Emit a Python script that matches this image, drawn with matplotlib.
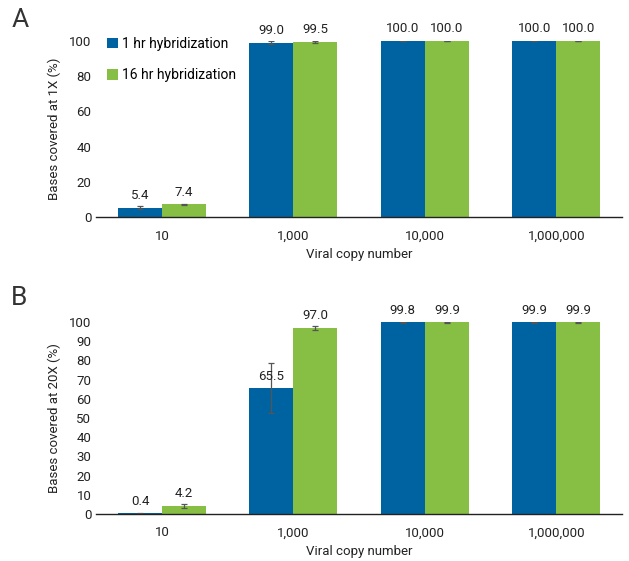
import matplotlib.pyplot as plt
import numpy as np

plt.rcParams['font.family'] = ['Roboto', 'DejaVu Sans']

categories = ["10", "1,000", "10,000", "1,000,000"]
series = ["1 hr hybridization", "16 hr hybridization"]

# panel A: bases covered at 1X
cov1x_1hr = [5.4, 99.0, 100.0, 100.0]
cov1x_16hr = [7.4, 99.5, 100.0, 100.0]
err1x_1hr = [1.0, 1.0, 0.2, 0.2]
err1x_16hr = [0.3, 0.5, 0.2, 0.2]

# panel B: bases covered at 20X
cov20x_1hr = [0.4, 65.5, 99.8, 99.9]
cov20x_16hr = [4.2, 97.0, 99.9, 99.9]
err20x_1hr = [0.3, 13.0, 0.2, 0.2]
err20x_16hr = [1.0, 1.0, 0.2, 0.2]

blue = "#0063a1"
green = "#86bf44"

fig = plt.figure(figsize=(6.29, 5.61), dpi=100)
axA = fig.add_axes([0.153, 0.613, 0.836, 0.314])
axB = fig.add_axes([0.153, 0.084, 0.836, 0.342])

x = np.arange(len(categories))
w = 0.335


def draw(ax, v1, v2, e1, e2, ylabel, yticks):
    for vals, errs, col, off, lab in [(v1, e1, blue, -w / 2, series[0]),
                                      (v2, e2, green, w / 2, series[1])]:
        ax.bar(x + off, vals, w, color=col, label=lab,
               yerr=errs, capsize=2,
               error_kw=dict(ecolor="#555555", elinewidth=0.9, capthick=0.9))
        for xi, v in zip(x + off, vals):
            ax.annotate("%.1f" % v, (xi, v), xytext=(0, 4), textcoords="offset points",
                        ha="center", va="bottom", fontsize=9.5, color="#222222")
    ax.set_xlim(-0.5, 3.5)
    ax.set_ylim(0, 100)
    ax.set_yticks(yticks)
    ax.set_xticks(x)
    ax.set_xticklabels(categories)
    for s in ["top", "right", "left"]:
        ax.spines[s].set_visible(False)
    ax.spines["bottom"].set_color("#222222")
    ax.spines["bottom"].set_linewidth(1.0)
    ax.tick_params(axis="both", length=0, labelsize=9.5, colors="#222222")
    ax.tick_params(axis="x", pad=9)
    ax.set_xlabel("Viral copy number", fontsize=9.5, color="#222222", labelpad=4)
    ax.set_ylabel(ylabel, fontsize=9.5, color="#222222", labelpad=6)


draw(axA, cov1x_1hr, cov1x_16hr, err1x_1hr, err1x_16hr,
     "Bases covered at 1X (%)", np.arange(0, 101, 20))
draw(axB, cov20x_1hr, cov20x_16hr, err20x_1hr, err20x_16hr,
     "Bases covered at 20X (%)", np.arange(0, 101, 10))

axA.legend(loc="upper left", bbox_to_anchor=(-0.003, 1.095), frameon=False, fontsize=10,
           handlelength=0.8, handleheight=0.8, handletextpad=0.25, labelspacing=1.25)

fig.text(0.018, 0.965, "A", fontsize=19, color="#333333", va="center")
fig.text(0.018, 0.468, "B", fontsize=19, color="#333333", va="center")

plt.savefig("out.png", dpi=100)
